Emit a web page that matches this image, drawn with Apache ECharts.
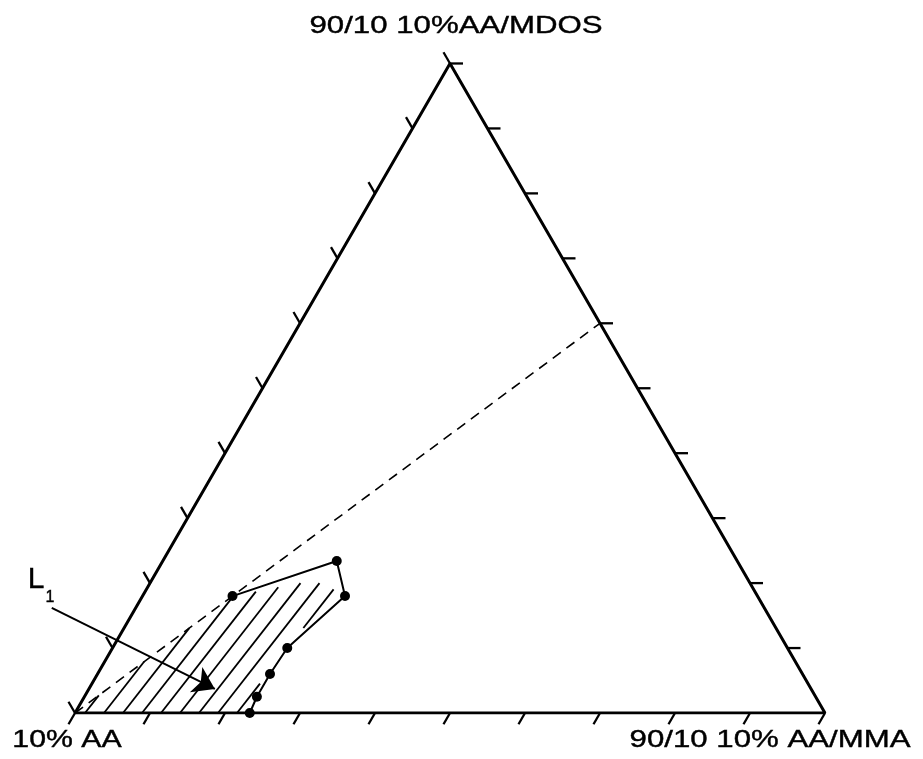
<!DOCTYPE html>
<html>
<head>
<meta charset="utf-8">
<script src="https://cdn.jsdelivr.net/npm/echarts@6/dist/echarts.min.js"></script>
<style>
  html, body { margin: 0; padding: 0; background: #fff; }
  #chart { width: 923px; height: 759px; }
</style>
</head>
<body>
<div id="chart"></div>
<script>
// Compositions are [AA, MMA, MDOS] fractions of the three corner components.
const vertexLabels = ['10% AA', '90/10 10% AA/MMA', '90/10 10%AA/MDOS'];
const vertices = [[1, 0, 0], [0, 1, 0], [0, 0, 1]];
const tickFractions = [0, 0.1, 0.2, 0.3, 0.4, 0.5, 0.6, 0.7, 0.8, 0.9, 1];

// Measured boundary compositions, in order along the boundary
const boundaryPoints = [
  [0.700, 0.120, 0.180],
  [0.534, 0.232, 0.234],
  [0.550, 0.270, 0.180],
  [0.667, 0.233, 0.100],
  [0.710, 0.230, 0.060],
  [0.745, 0.230, 0.025],
  [0.767, 0.233, 0.000]
];

// Dilution line from the AA corner to AA/MMA : AA/MDOS = 40 : 60
const dashedLine = [[1, 0, 0], [0, 0.4, 0.6]];

// Single-phase region L1 (hatched)
const hatchRegion = [
  [1.000, 0.000, 0.000],
  [0.700, 0.120, 0.180],
  [0.600, 0.200, 0.200],
  [0.560, 0.240, 0.200],
  [0.560, 0.265, 0.175],
  [0.671, 0.224, 0.105],
  [0.776, 0.224, 0.000]
];

// Pointer for the L1 label
const arrowL1 = [[0.950, -0.112, 0.162], [0.795, 0.168, 0.037]];

const H = Math.sqrt(3) / 2;
function toXY(t) {
  const s = t[0] + t[1] + t[2];
  const b = t[1] / s, c = t[2] / s;
  return [b + c / 2, c * H];
}

// Tick marks: [x, y, side]  side 0 = bottom, 1 = left, 2 = right
const tickData = [];
tickFractions.forEach(f => {
  tickData.push(toXY([1 - f, f, 0]).concat(0));
  tickData.push(toXY([1 - f, 0, f]).concat(1));
  if (f > 0) tickData.push(toXY([0, 1 - f, f]).concat(2));
});
const tickDirs = [[-0.5, 0.866], [-0.5, -0.866], [1, 0]];
const TICK_LEN = 13;

const chart = echarts.init(document.getElementById('chart'), null, { renderer: 'canvas' });

const GRID_LEFT = 75, GRID_WIDTH = 750;
const GRID_HEIGHT = GRID_WIDTH * H;
const GRID_TOP = 713 - GRID_HEIGHT;

function hatchItem(params, api) {
  const poly = hatchRegion.map(t => api.coord(toXY(t)));
  const ang = 52 * Math.PI / 180;
  const d = [Math.cos(ang), -Math.sin(ang)];
  const n = [Math.sin(ang), Math.cos(ang)];
  const dot = (p, v) => p[0] * v[0] + p[1] * v[1];
  const spacing = 19 * Math.sin(ang);
  const s0 = dot(poly[0], n) + 10 * Math.sin(ang);
  let sMin = Infinity, sMax = -Infinity;
  poly.forEach(p => { const s = dot(p, n); sMin = Math.min(sMin, s); sMax = Math.max(sMax, s); });
  const kStart = Math.ceil((sMin - s0) / spacing), kEnd = Math.floor((sMax - s0) / spacing);
  const children = [];
  for (let k = kStart; k <= kEnd; k++) {
    const s = s0 + k * spacing;
    const ts = [];
    for (let i = 0; i < poly.length; i++) {
      const p1 = poly[i], p2 = poly[(i + 1) % poly.length];
      const a1 = dot(p1, n) - s, a2 = dot(p2, n) - s;
      if ((a1 < 0 && a2 >= 0) || (a1 >= 0 && a2 < 0)) {
        const u = a1 / (a1 - a2);
        const q = [p1[0] + u * (p2[0] - p1[0]), p1[1] + u * (p2[1] - p1[1])];
        ts.push(dot(q, d));
      }
    }
    ts.sort((x, y) => x - y);
    for (let j = 0; j + 1 < ts.length; j += 2) {
      const base = [n[0] * s, n[1] * s];
      children.push({
        type: 'line',
        shape: {
          x1: base[0] + d[0] * ts[j], y1: base[1] + d[1] * ts[j],
          x2: base[0] + d[0] * ts[j + 1], y2: base[1] + d[1] * ts[j + 1]
        },
        style: { stroke: '#000', lineWidth: 1.8 }
      });
    }
  }
  return { type: 'group', children };
}

function tickItem(params, api) {
  const p = api.coord([api.value(0), api.value(1)]);
  const dir = tickDirs[api.value(2)];
  return {
    type: 'line',
    shape: { x1: p[0], y1: p[1], x2: p[0] + dir[0] * TICK_LEN, y2: p[1] + dir[1] * TICK_LEN },
    style: { stroke: '#000', lineWidth: 2.3 }
  };
}

const fontFamily = '"Liberation Sans", Arial, sans-serif';
const labelStyle = (text, size) => ({
  text, fontSize: size, fontFamily, fill: '#000',
  stroke: '#000', lineWidth: 0.4,
  align: 'center', verticalAlign: 'middle'
});

const option = {
  animation: false,
  backgroundColor: '#fff',
  grid: { left: GRID_LEFT, top: GRID_TOP, width: GRID_WIDTH, height: GRID_HEIGHT, containLabel: false },
  xAxis: { type: 'value', min: 0, max: 1, show: false },
  yAxis: { type: 'value', min: 0, max: H, show: false },
  series: [
    {
      type: 'custom', name: 'hatch', silent: true, clip: false,
      renderItem: hatchItem, data: [[0, 0]], encode: { x: 0, y: 1 }, z: 1
    },
    {
      type: 'line', name: 'dilution', silent: true, symbol: 'none',
      data: dashedLine.map(toXY),
      lineStyle: { color: '#000', width: 1.6, type: [10, 7] }, z: 2
    },
    {
      type: 'line', name: 'frame', silent: true, symbol: 'none',
      data: vertices.concat([vertices[0]]).map(toXY),
      lineStyle: { color: '#000', width: 3 }, z: 3
    },
    {
      type: 'custom', name: 'ticks', silent: true, clip: false,
      renderItem: tickItem, data: tickData, encode: { x: 0, y: 1 }, z: 3
    },
    {
      type: 'line', name: 'boundary', silent: true,
      data: boundaryPoints.map(toXY),
      symbol: 'circle', symbolSize: 10, showSymbol: true,
      itemStyle: { color: '#000' },
      lineStyle: { color: '#000', width: 2 }, z: 4
    },
    {
      type: 'lines', name: 'pointer', coordinateSystem: 'cartesian2d', silent: true, clip: false,
      data: [{ coords: arrowL1.map(toXY) }],
      symbol: ['none', 'arrow'], symbolSize: [11, 21],
      lineStyle: { color: '#000', width: 2, opacity: 1 }, z: 5
    }
  ],
  graphic: [
    { type: 'text', x: 456, y: 26, scaleX: 1.3, style: labelStyle(vertexLabels[2], 24) },
    { type: 'text', x: 67, y: 740, scaleX: 1.26, style: labelStyle(vertexLabels[0], 24) },
    { type: 'text', x: 770, y: 740, scaleX: 1.3, style: labelStyle(vertexLabels[1], 24) },
    { type: 'text', x: 36, y: 580, style: labelStyle('L', 30) },
    { type: 'text', x: 50, y: 598, style: labelStyle('1', 16) }
  ]
};

chart.setOption(option);
</script>
</body>
</html>
